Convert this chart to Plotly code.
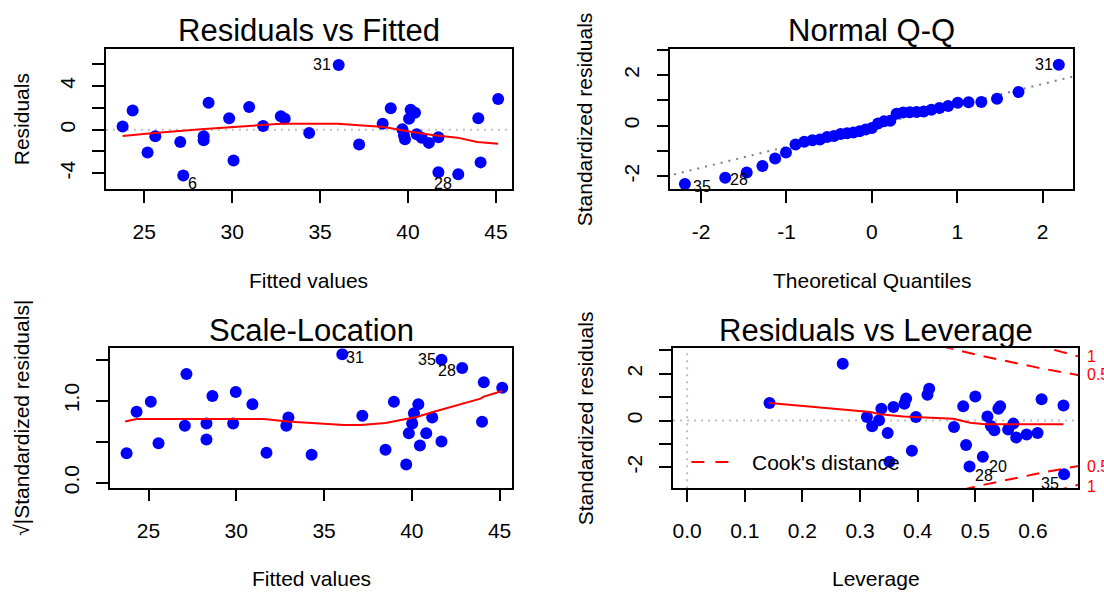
import plotly.graph_objects as go

W, H = 1104, 596
FONT = "Liberation Sans, Arial, Helvetica, sans-serif"

# ---------------- data ----------------
# Panel 1: Residuals vs Fitted
fitted1 = [23.77, 24.34, 25.19, 25.63, 27.05, 27.22, 28.38, 28.38, 28.66, 29.83, 30.08, 30.97,
           31.76, 32.77, 32.99, 34.38, 36.06, 37.22, 38.56, 39.02, 39.68, 39.77, 39.83, 40.06,
           40.15, 40.40, 40.50, 40.78, 41.19, 41.73, 41.73, 42.86, 44.00, 44.13, 45.13]
resid1 = [0.30, 1.76, -2.09, -0.61, -1.12, -4.21, -0.61, -0.97, 2.48, 1.06, -2.82, 2.09,
          0.33, 1.24, 1.00, -0.30, 5.94, -1.36, 0.55, 1.97, 0.03, -0.52, -0.88, 1.00,
          1.82, 1.55, -0.42, -0.73, -1.21, -0.70, -3.91, -4.09, 1.06, -3.00, 2.82]
smooth1_x = [23.77, 25.57, 28.22, 31.06, 32.77, 35.99, 38.64, 39.97, 41.48, 42.81, 43.94, 45.13]
smooth1_y = [-0.58, -0.30, 0.03, 0.33, 0.55, 0.55, 0.24, -0.15, -0.52, -0.73, -1.12, -1.30]
ids1 = ["31", "6", "28"]
ids1_idx = [16, 5, 31]

# Panel 2: Normal Q-Q
theo_q = [-2.19, -1.718, -1.466, -1.282, -1.133, -1.006, -0.894, -0.792, -0.697, -0.608,
          -0.524, -0.444, -0.366, -0.290, -0.216, -0.144, -0.072, 0.0, 0.072, 0.144,
          0.216, 0.290, 0.366, 0.444, 0.524, 0.608, 0.697, 0.792, 0.894, 1.006,
          1.133, 1.282, 1.466, 1.718, 2.19]
std_sorted = [-2.31, -2.06, -1.85, -1.60, -1.30, -1.06, -0.75, -0.64, -0.58, -0.55,
              -0.45, -0.41, -0.33, -0.30, -0.27, -0.22, -0.15, -0.09, 0.08, 0.17,
              0.19, 0.47, 0.52, 0.53, 0.54, 0.56, 0.63, 0.70, 0.78, 0.90,
              0.92, 0.93, 1.06, 1.33, 2.41]
qq_line_x = [-2.5, 2.5]
qq_line_y = [-2.08, 2.06]
ids2 = ["35", "28", "31"]
ids2_idx = [0, 1, 34]

# Panel 3: Scale-Location
fitted3 = [23.75, 24.32, 25.13, 25.57, 27.16, 27.07, 28.30, 28.30, 28.64, 29.82, 29.97, 30.92,
           31.72, 32.97, 32.85, 34.29, 36.04, 37.18, 38.50, 38.98, 39.68, 39.83, 40.02, 40.12,
           40.37, 40.46, 40.82, 41.16, 41.69, 41.69, 42.87, 44.10, 44.00, 45.15]
sqrt_std3 = [0.361, 0.864, 0.988, 0.482, 1.325, 0.695, 0.723, 0.526, 1.057, 0.723, 1.105, 0.956,
             0.366, 0.795, 0.695, 0.342, 1.566, 0.816, 0.402, 0.988, 0.222, 0.602, 0.723, 0.848,
             0.956, 0.454, 0.602, 0.795, 1.499, 0.502, 1.398, 1.225, 0.743, 1.157]
smooth3_x = [23.67, 24.32, 31.58, 32.91, 36.13, 37.08, 38.51, 40.02, 40.31, 41.26, 42.77, 43.91, 44.10, 45.15]
smooth3_y = [0.747, 0.776, 0.776, 0.747, 0.703, 0.703, 0.727, 0.784, 0.804, 0.864, 0.956, 1.024, 1.049, 1.117]
ids3 = ["31", "35", "28"]
ids3_idx = [16, 28, 30]

# Panel 4: Residuals vs Leverage
lev4 = [0.143, 0.270, 0.312, 0.321, 0.333, 0.337, 0.348, 0.351, 0.358, 0.377, 0.380, 0.390,
        0.397, 0.417, 0.420, 0.463, 0.479, 0.484, 0.490, 0.500, 0.513, 0.521, 0.527, 0.533,
        0.540, 0.543, 0.557, 0.566, 0.571, 0.589, 0.608, 0.615, 0.653, 0.654]
std4 = [0.75, 2.43, 0.15, -0.24, 0.01, 0.51, -0.53, -1.76, 0.58, 0.72, 0.94, -1.29,
        0.15, 1.11, 1.36, -0.27, 0.61, -1.05, -1.97, 1.03, -1.55, 0.18, -0.23, -0.41,
        0.51, 0.61, -0.38, -0.13, -0.72, -0.60, -0.53, 0.91, 0.65, -2.30]
smooth4_x = [0.143, 0.318, 0.335, 0.375, 0.462, 0.491, 0.517, 0.653]
smooth4_y = [0.75, 0.37, 0.27, 0.18, 0.08, -0.09, -0.16, -0.16]
cook05_h = [0.44, 0.46, 0.48, 0.50, 0.52, 0.54, 0.56, 0.58, 0.60, 0.62, 0.64, 0.66, 0.68]
cook05_y = [3.19, 3.06, 2.94, 2.83, 2.72, 2.61, 2.51, 2.41, 2.31, 2.21, 2.12, 2.03, 1.94]
cook1_h = [0.60, 0.62, 0.64, 0.66, 0.68]
cook1_y = [3.27, 3.13, 3.00, 2.87, 2.74]
cook_labels = ["1", "0.5", "0.5", "1"]
cook_label_y = [2.76, 1.96, -1.98, -2.84]
ids4 = ["28", "20", "35"]
ids4_idx = [18, 20, 33]

# ---------------- layout geometry (pixels) ----------------
panels = {
    1: dict(x0=105, x1=511, y0=49, y1=191, xr=[22.82, 45.89], yr=[-5.45, 7.45]),
    2: dict(x0=670, x1=1073.3, y0=49, y1=191, xr=[-2.36, 2.36], yr=[-2.51, 3.05]),
    3: dict(x0=109, x1=511.7, y0=351.7, y1=492.7, xr=[22.80, 45.72], yr=[-0.06, 1.639]),
    4: dict(x0=672.7, x1=1078.3, y0=351.7, y1=493.3, xr=[-0.0243, 0.6787], yr=[-2.9, 3.1]),
}

fig = go.Figure()

BLUE = "#0000FF"
RED = "#FF0000"


def ax_names(i):
    return ("x" if i == 1 else f"x{i}"), ("y" if i == 1 else f"y{i}")


def add_points(i, xs, ys):
    xa, ya = ax_names(i)
    fig.add_trace(go.Scatter(x=xs, y=ys, mode="markers", xaxis=xa, yaxis=ya,
                             marker=dict(color=BLUE, size=12, line=dict(width=0)),
                             showlegend=False, hoverinfo="skip"))


def add_line(i, xs, ys, color=RED, width=2, dash="solid"):
    xa, ya = ax_names(i)
    fig.add_trace(go.Scatter(x=xs, y=ys, mode="lines", xaxis=xa, yaxis=ya,
                             line=dict(color=color, width=width, dash=dash),
                             showlegend=False, hoverinfo="skip"))


def add_ids(i, xs, ys, labels, idx, shifts):
    xa, ya = ax_names(i)
    for lab, k, (dx, dy) in zip(labels, idx, shifts):
        fig.add_annotation(x=xs[k], y=ys[k], xref=xa, yref=ya, text=lab, showarrow=False,
                           xanchor="center", yanchor="middle",
                           xshift=dx, yshift=dy, font=dict(size=16, color="black", family=FONT))


def paper_text(t, x, y, size, color="black", angle=0, xanchor="center"):
    fig.add_annotation(x=x / W, y=1 - y / H, xref="paper", yref="paper", text=t, showarrow=False,
                       xanchor=xanchor, yanchor="middle", textangle=angle,
                       font=dict(size=size, color=color, family=FONT))


# zero / reference lines (drawn first so points sit on top)
GRAY = "#BEBEBE"
for i in (1, 4):
    xa, ya = ax_names(i)
    fig.add_shape(type="line", xref=f"{xa} domain", x0=0, x1=1, yref=ya, y0=0, y1=0,
                  line=dict(color=GRAY, width=2, dash="2px,5px"), layer="below")
fig.add_shape(type="line", xref="x4", x0=0, x1=0, yref="y4 domain", y0=0, y1=1,
              line=dict(color=GRAY, width=2, dash="2px,5px"), layer="below")
add_line(2, qq_line_x, qq_line_y, color="#7F7F7F", width=2, dash="2px,6px")

# Panel 1
add_points(1, fitted1, resid1)
add_line(1, smooth1_x, smooth1_y)
add_ids(1, fitted1, resid1, ids1, ids1_idx, [(-17, 0), (9, -8), (-15, -9)])

# Panel 2
add_points(2, theo_q, std_sorted)
add_ids(2, theo_q, std_sorted, ids2, ids2_idx, [(17, -2), (14, -2), (-15, 0)])

# Panel 3
add_points(3, fitted3, sqrt_std3)
add_line(3, smooth3_x, smooth3_y)
add_ids(3, fitted3, sqrt_std3, ids3, ids3_idx, [(13, -3), (-14, 0), (-15, -3)])

# Panel 4
CDASH = "13px,9px"
add_line(4, cook05_h, cook05_y, dash=CDASH)
add_line(4, cook1_h, cook1_y, dash=CDASH)
add_line(4, cook05_h, [-v for v in cook05_y], dash=CDASH)
add_line(4, cook1_h, [-v for v in cook1_y], dash=CDASH)
add_points(4, lev4, std4)
add_line(4, smooth4_x, smooth4_y)
add_ids(4, lev4, std4, ids4, ids4_idx, [(14, -9), (15, -10), (-14, -9)])
for lab, yv in zip(cook_labels, cook_label_y):
    fig.add_annotation(x=1085 / W, y=yv, xref="paper", yref="y4", text=lab, showarrow=False,
                       xanchor="left", yanchor="middle", font=dict(size=16, color=RED, family=FONT))

# Cook's distance legend
fig.add_shape(type="line", xref="paper", yref="paper", x0=691 / W, x1=732 / W,
              y0=1 - 466.7 / H, y1=1 - 466.7 / H, line=dict(color=RED, width=2, dash="13px,11px"))
paper_text("Cook's distance", 750, 466.7, 21, xanchor="left")

# ---------------- axes ----------------
xticks = {
    1: ([25, 30, 35, 40, 45], ["25", "30", "35", "40", "45"]),
    2: ([-2, -1, 0, 1, 2], ["-2", "-1", "0", "1", "2"]),
    3: ([25, 30, 35, 40, 45], ["25", "30", "35", "40", "45"]),
    4: ([0, 0.1, 0.2, 0.3, 0.4, 0.5, 0.6], ["0.0", "0.1", "0.2", "0.3", "0.4", "0.5", "0.6"]),
}
yticks = {
    1: ([-4, -2, 0, 2, 4, 6], ["-4", "", "0", "", "4", ""]),
    2: ([-2, -1, 0, 1, 2, 3], ["-2", "", "0", "", "2", ""]),
    3: ([0, 0.5, 1.0, 1.5], ["0.0", "", "1.0", ""]),
    4: ([-2, -1, 0, 1, 2, 3], ["-2", "", "0", "", "2", ""]),
}

common = dict(showline=True, linecolor="black", linewidth=1.5, mirror=True, ticks="outside",
              ticklen=12, tickwidth=1.5, tickcolor="black", showgrid=False, zeroline=False,
              tickfont=dict(size=21, color="black", family=FONT), fixedrange=True)

layout_axes = {}
for i, p in panels.items():
    xa, ya = ax_names(i)
    xkey = "xaxis" if i == 1 else f"xaxis{i}"
    ykey = "yaxis" if i == 1 else f"yaxis{i}"
    layout_axes[xkey] = dict(common, domain=[p["x0"] / W, p["x1"] / W], range=p["xr"], anchor=ya,
                             tickmode="array", tickvals=xticks[i][0], ticktext=xticks[i][1],
                             ticklabelstandoff=11)
    layout_axes[ykey] = dict(common, domain=[1 - p["y1"] / H, 1 - p["y0"] / H], range=p["yr"], anchor=xa,
                             tickmode="array", tickvals=yticks[i][0], ticktext=yticks[i][1],
                             tickangle=-90, ticklabelstandoff=9)

fig.update_layout(**layout_axes)

# ---------------- titles ----------------
titles = [("Residuals vs Fitted", 308, 31), ("Normal Q-Q", 871.7, 31),
          ("Scale-Location", 310.3, 333.5), ("Residuals vs Leverage", 875.5, 333.5)]
for t, x, y in titles:
    paper_text(t, x, y, 31)

xtitles = [("Fitted values", 308, 283), ("Theoretical Quantiles", 871.7, 283),
           ("Fitted values", 310.3, 584), ("Leverage", 875.5, 584)]
for t, x, y in xtitles:
    paper_text(t, x, y, 21)

ytitles = [("Residuals", 20.5, 120), ("Standardized residuals", 584, 120),
           ("√|Standardized residuals|", 21, 422), ("Standardized residuals", 585, 422)]
for t, x, y in ytitles:
    paper_text(t, x, y, 21, angle=-90)

fig.update_layout(width=W, height=H, margin=dict(l=0, r=0, t=0, b=0),
                  paper_bgcolor="white", plot_bgcolor="white", showlegend=False)

fig.write_html("out.html")
